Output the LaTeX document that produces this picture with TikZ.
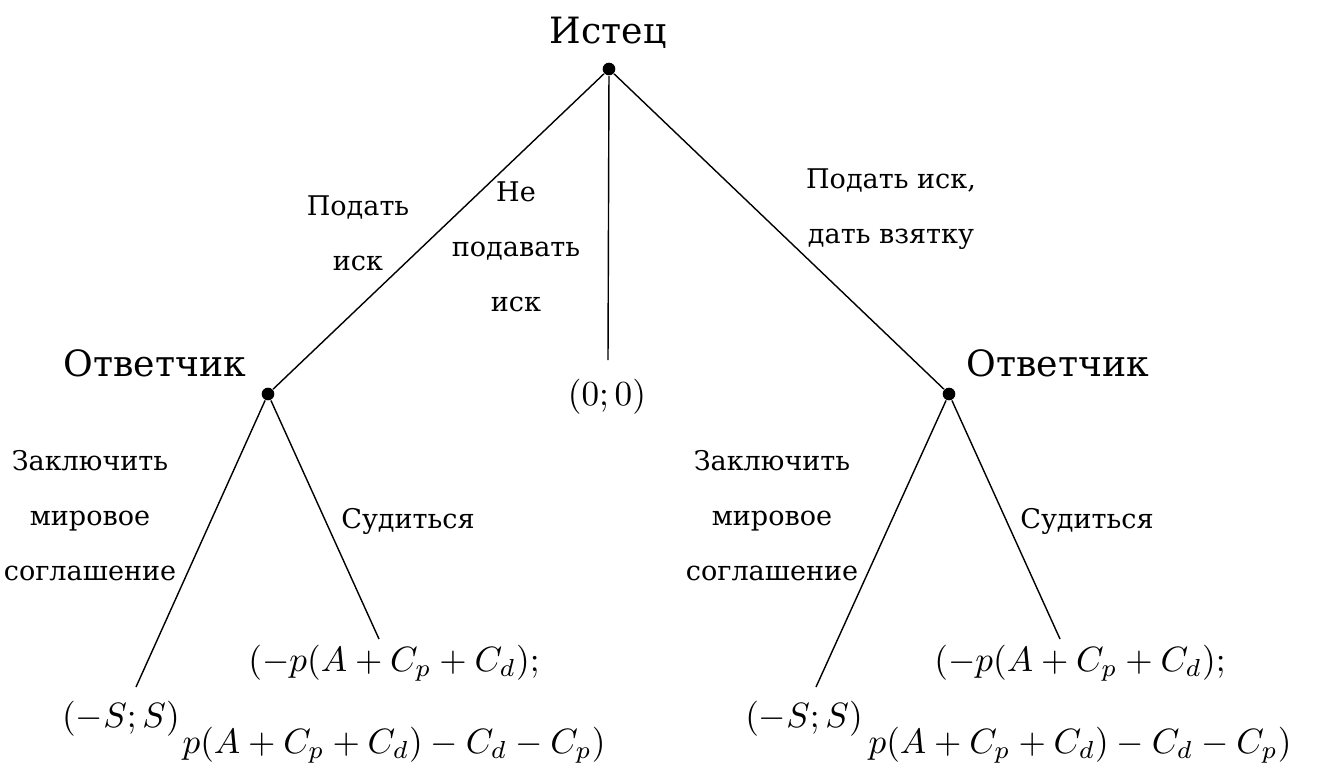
\documentclass[tikz,border=0pt]{standalone}
\usepackage{amsmath}
\usepackage{fontspec}
\newfontfamily\rufont{DejaVu Serif}

\begin{document}
\begin{tikzpicture}[x=0.01cm, y=-0.01cm,
  dot/.style={circle, fill, inner sep=0pt, minimum size=3.6pt},
  player/.style={font=\rufont\fontsize{10.3}{15}\selectfont, anchor=base},
  move/.style={font=\rufont\fontsize{7.7}{15.65}\selectfont, align=center},
  payoff/.style={font=\fontsize{10}{23.3}\selectfont, align=center}]
  \useasboundingbox (0,0) rectangle (1324,781);

  % Decision nodes
  \node[dot] (root) at (609,69) {};
  \node[dot] (resp1) at (268,394) {};
  \node[dot] (resp2) at (949,394) {};
  \node[player] (plaintiff) at (608,43) {Истец};
  \node[player] (deflabel1) at (155,376) {Ответчик};
  \node[player] (deflabel2) at (1058,376) {Ответчик};

  % Ends of the branches
  \coordinate (mid) at (608,360);
  \coordinate (l1) at (136,687);
  \coordinate (l2) at (379,639);
  \coordinate (r1) at (816,687);
  \coordinate (r2) at (1060,639);

  % Branches
  \draw (root) -- (resp1);
  \draw (root) -- (mid);
  \draw (root) -- (resp2);
  \draw (resp1) -- (l1);
  \draw (resp1) -- (l2);
  \draw (resp2) -- (r1);
  \draw (resp2) -- (r2);

  % Moves
  \node[move] (sue) at (358,233) {Подать\\иск};
  \node[move] (nosue) at (516,247) {Не\\подавать\\иск};
  \node[move] (bribe) at (891,209) {Подать иск,\\дать взятку};
  \node[move] (settle1) at (90,516) {Заключить\\мировое\\соглашение};
  \node[move, anchor=base] (court1) at (408,528) {Судиться};
  \node[move] (settle2) at (772,516) {Заключить\\мировое\\соглашение};
  \node[move, anchor=base] (court2) at (1087,528) {Судиться};

  % Payoffs
  \node[payoff, anchor=base] (p0) at (607,405) {$(0;0)$};
  \node[payoff, anchor=base] (pl1) at (121,727) {$(-S;S)$};
  \node[payoff] (pl2) at (394,704) {$(-p(A+C_p+C_d);$\\$p(A+C_p+C_d)-C_d-C_p)$};
  \node[payoff, anchor=base] (pr1) at (804,727) {$(-S;S)$};
  \node[payoff] (pr2) at (1080,704) {$(-p(A+C_p+C_d);$\\$p(A+C_p+C_d)-C_d-C_p)$};
\end{tikzpicture}
\end{document}
